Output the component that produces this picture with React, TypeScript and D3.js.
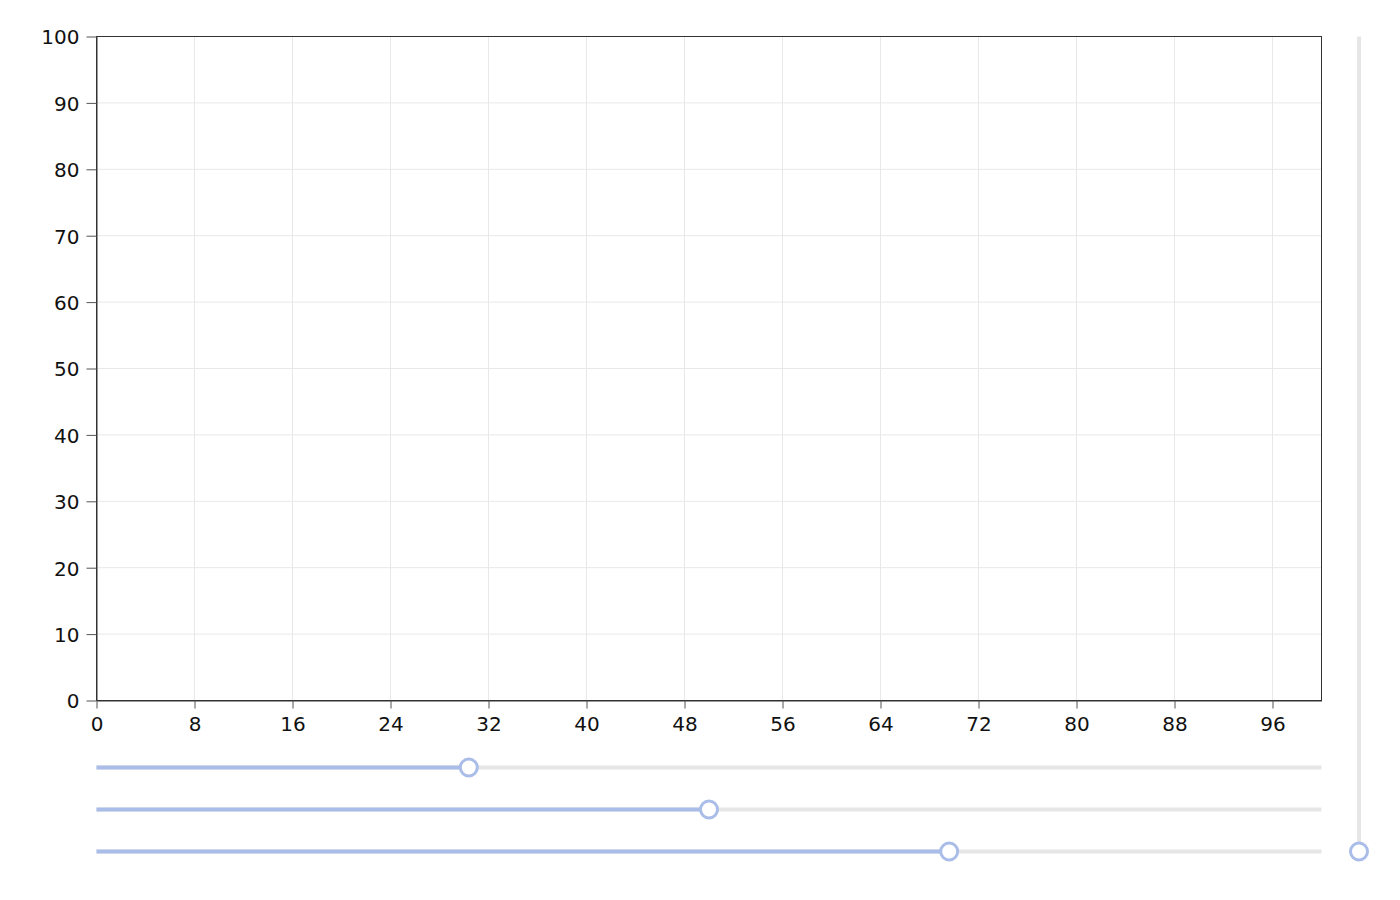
import React, { useRef, useEffect } from 'react';
import * as d3 from 'd3';

// axis domains and tick values
const xDomain = [0, 100];
const yDomain = [0, 100];
const xTicks = [0, 8, 16, 24, 32, 40, 48, 56, 64, 72, 80, 88, 96];
const yTicks = [0, 10, 20, 30, 40, 50, 60, 70, 80, 90, 100];

// slider values (fraction of track)
const hSliderValues = [0.3, 0.5, 0.7];
const vSliderValue = 0;

const WIDTH = 1400;
const HEIGHT = 900;

const App: React.FC = () => {
  const ref = useRef<SVGSVGElement>(null);

  useEffect(() => {
    const svg = d3.select(ref.current);
    svg.selectAll('*').remove();

    const margin = { top: 36, right: 79, bottom: 200, left: 96 };
    const chartWidth = WIDTH - margin.left - margin.right;
    const chartHeight = HEIGHT - margin.top - margin.bottom;

    const x = d3.scaleLinear().domain(xDomain).range([0, chartWidth]);
    const y = d3.scaleLinear().domain(yDomain).range([chartHeight, 0]);

    // half-pixel shift keeps the 1px lines crisp
    const root = svg.append('g').attr('transform', 'translate(0.5,0.5)');
    const g = root.append('g').attr('transform', `translate(${margin.left},${margin.top})`);

    // grid
    g.append('g')
      .selectAll('line')
      .data(xTicks.filter(d => d > 0))
      .join('line')
      .attr('x1', d => x(d)).attr('x2', d => x(d))
      .attr('y1', 0).attr('y2', chartHeight)
      .attr('stroke', '#e8e8e8').attr('stroke-width', 1);

    g.append('g')
      .selectAll('line')
      .data(yTicks.filter(d => d > 0 && d < 100))
      .join('line')
      .attr('x1', 0).attr('x2', chartWidth)
      .attr('y1', d => y(d)).attr('y2', d => y(d))
      .attr('stroke', '#e8e8e8').attr('stroke-width', 1);

    // frame
    g.append('rect')
      .attr('x', 0).attr('y', 0)
      .attr('width', chartWidth).attr('height', chartHeight)
      .attr('fill', 'none').attr('stroke', '#333').attr('stroke-width', 1);

    const styleAxis = (sel: any) => {
      sel.select('.domain').attr('stroke', '#333');
      sel.selectAll('.tick line').attr('stroke', '#555');
      sel.selectAll('.tick text')
        .attr('fill', '#111')
        .attr('font-family', 'DejaVu Sans, sans-serif')
        .attr('font-size', 20);
    };

    g.append('g')
      .attr('transform', `translate(0,${chartHeight})`)
      .call(d3.axisBottom(x).tickValues(xTicks).tickSize(8).tickPadding(8).tickSizeOuter(0))
      .call(styleAxis);

    g.append('g')
      .call(d3.axisLeft(y).tickValues(yTicks).tickSize(10).tickPadding(7).tickSizeOuter(0))
      .call(styleAxis)
      .call((sel: any) => sel.selectAll('.tick text').attr('dy', '0.37em'));

    // horizontal sliders
    const blue = '#a9bde8';
    const track = '#e6e6e6';
    const inset = 12;
    const sx = d3.scaleLinear().domain([0, 1]).range([inset, chartWidth - inset]);
    const sliderY = [767, 809, 851];

    hSliderValues.forEach((v, i) => {
      const s = root.append('g').attr('transform', `translate(${margin.left},${sliderY[i]})`);
      s.append('line')
        .attr('x1', 0).attr('x2', chartWidth)
        .attr('stroke', track).attr('stroke-width', 4);
      s.append('line')
        .attr('x1', 0).attr('x2', sx(v))
        .attr('stroke', blue).attr('stroke-width', 4);
      s.append('circle')
        .attr('cx', sx(v)).attr('r', 8.5)
        .attr('fill', '#fff').attr('stroke', blue).attr('stroke-width', 3);
    });

    // vertical slider
    const vx = 1358.5;
    const sy = d3.scaleLinear().domain([0, 1]).range([851, margin.top]);
    root.append('line')
      .attr('x1', vx).attr('x2', vx)
      .attr('y1', margin.top).attr('y2', 851)
      .attr('stroke', track).attr('stroke-width', 4);
    root.append('circle')
      .attr('cx', vx).attr('cy', sy(vSliderValue)).attr('r', 8.5)
      .attr('fill', '#fff').attr('stroke', blue).attr('stroke-width', 3);
  }, []);

  return (
    <svg
      ref={ref}
      width={WIDTH}
      height={HEIGHT}
      style={{ position: 'absolute', left: 0, top: 0, background: '#fff' }}
    />
  );
};

export default App;
